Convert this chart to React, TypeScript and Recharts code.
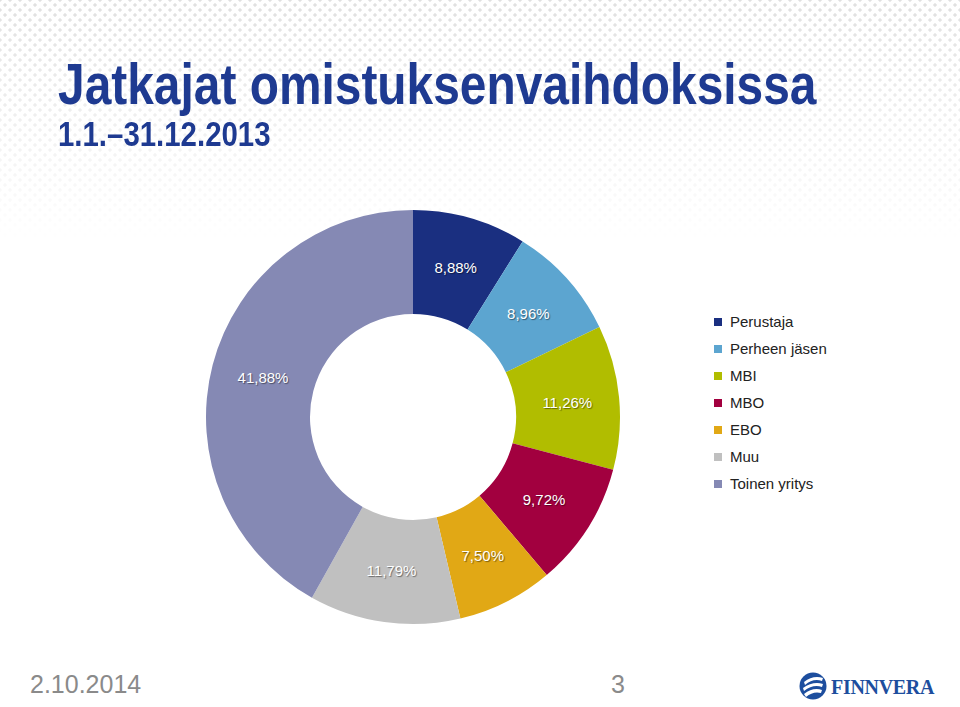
import React from 'react';
import { PieChart, Pie, Cell, Legend } from 'recharts';

// Jatkajat omistuksenvaihdoksissa 1.1.–31.12.2013
const categories = ['Perustaja', 'Perheen jäsen', 'MBI', 'MBO', 'EBO', 'Muu', 'Toinen yritys'];
const shares = [8.88, 8.96, 11.26, 9.72, 7.5, 11.79, 41.88];
const colors = ['#1A2F80', '#5CA5D0', '#B1BD00', '#A2003F', '#E1A815', '#C0C0C0', '#8589B4'];

const data = categories.map((name, i) => ({ name, value: shares[i] }));

const RAD = Math.PI / 180;
const fmt = (v: number) => v.toFixed(2).replace('.', ',') + '%';

const renderLabel = (props: any) => {
  const { cx, cy, midAngle, innerRadius, outerRadius, value } = props;
  const r = (innerRadius + outerRadius) / 2;
  const x = cx + r * Math.cos(-midAngle * RAD);
  const y = cy + r * Math.sin(-midAngle * RAD);
  return (
    <text
      x={x}
      y={y}
      fill="#fff"
      textAnchor="middle"
      dominantBaseline="central"
      fontSize={15}
      fontFamily="'Liberation Sans', Arial, sans-serif"
      style={{ textShadow: '1px 1px 1px rgba(0,0,0,0.45)' }}
    >
      {fmt(value)}
    </text>
  );
};

const renderLegend = () => (
  <div style={{ fontFamily: "'Liberation Sans', Arial, sans-serif", fontSize: 15, color: '#222' }}>
    {data.map((d, i) => (
      <div key={d.name} style={{ display: 'flex', alignItems: 'center', height: 27 }}>
        <span style={{ width: 8, height: 8, background: colors[i], marginRight: 8, display: 'inline-block' }} />
        <span>{d.name}</span>
      </div>
    ))}
  </div>
);

const Logo = () => (
  <svg width={150} height={40} style={{ position: 'absolute', left: 795, top: 666 }}>
    <circle cx={18} cy={20} r={13.5} fill="#1D4E9E" />
    <path d="M9 16 Q18 9 28 12 L27 15 Q18 12 10 19 Z" fill="#fff" />
    <path d="M8 22 Q18 15 28 18 L27 21 Q18 18 9 25 Z" fill="#fff" />
    <path d="M9 28 Q18 21 27 24 L26 27 Q18 25 11 31 Z" fill="#fff" />
    <text x={36} y={28} fontFamily="'Liberation Serif', 'Times New Roman', serif" fontWeight="bold" fontSize={20} fill="#1D4E9E" letterSpacing={-0.3}>
      FINNVERA
    </text>
  </svg>
);

export default function App() {
  return (
    <div style={{ position: 'absolute', left: 0, top: 0, width: 960, height: 707, background: '#fff', overflow: 'hidden' }}>
      <div
        style={{
          position: 'absolute', left: 0, top: 0, width: 960, height: 260,
          backgroundImage:
            'radial-gradient(circle, #e0e0e0 1.3px, transparent 2.1px), radial-gradient(circle, #e0e0e0 1.3px, transparent 2.1px)',
          backgroundSize: '10px 10px, 10px 10px',
          backgroundPosition: '0 0, 5px 5px',
          WebkitMaskImage: 'linear-gradient(to bottom, #000 0px, rgba(0,0,0,0.5) 120px, transparent 240px)',
          maskImage: 'linear-gradient(to bottom, #000 0px, rgba(0,0,0,0.5) 120px, transparent 240px)',
        }}
      />
      <div
        style={{
          position: 'absolute', left: 58, top: 56, fontFamily: "'Liberation Sans', Arial, sans-serif",
          fontWeight: 'bold', fontSize: 57, lineHeight: 1, color: '#1E3A91', whiteSpace: 'nowrap',
          transform: 'scaleX(0.84)', transformOrigin: 'left top',
        }}
      >
        Jatkajat omistuksenvaihdoksissa
      </div>
      <div
        style={{
          position: 'absolute', left: 58, top: 116, fontFamily: "'Liberation Sans', Arial, sans-serif",
          fontWeight: 'bold', fontSize: 35, lineHeight: 1, color: '#1E3A91', whiteSpace: 'nowrap',
          transform: 'scaleX(0.84)', transformOrigin: 'left top',
        }}
      >
        1.1.–31.12.2013
      </div>

      <div style={{ position: 'absolute', left: 0, top: 0 }}>
        <PieChart width={960} height={707} margin={{ top: 0, right: 0, bottom: 0, left: 0 }}>
          <Pie
            data={data}
            dataKey="value"
            nameKey="name"
            cx={413}
            cy={417}
            innerRadius={103}
            outerRadius={207}
            startAngle={90}
            endAngle={-270}
            stroke="none"
            label={renderLabel}
            labelLine={false}
            isAnimationActive={false}
          >
            {data.map((d, i) => (
              <Cell key={d.name} fill={colors[i]} />
            ))}
          </Pie>
          <Legend
            layout="vertical"
            content={renderLegend}
            wrapperStyle={{ position: 'absolute', left: 714, top: 308, width: 200 }}
          />
        </PieChart>
      </div>

      <div style={{ position: 'absolute', left: 30, top: 672, fontFamily: "'Liberation Sans', Arial, sans-serif", fontSize: 25, color: '#8a8a8a', lineHeight: 1 }}>
        2.10.2014
      </div>
      <div style={{ position: 'absolute', left: 611, top: 672, fontFamily: "'Liberation Sans', Arial, sans-serif", fontSize: 25, color: '#8a8a8a', lineHeight: 1 }}>
        3
      </div>
      <Logo />
    </div>
  );
}
